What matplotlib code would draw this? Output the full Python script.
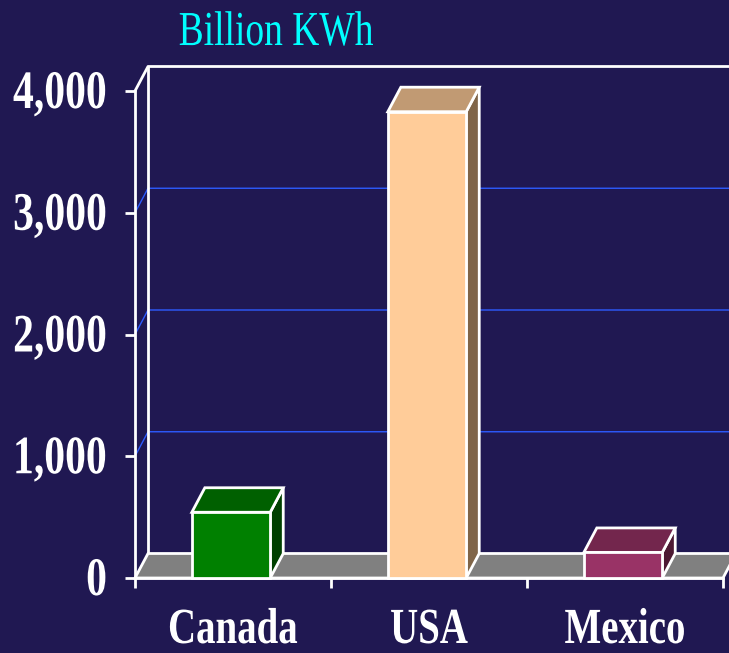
import matplotlib
matplotlib.use("Agg")
import matplotlib.pyplot as plt
from matplotlib.patches import Polygon
from matplotlib.patheffects import AbstractPathEffect
from matplotlib.transforms import Affine2D, offset_copy

# ---- data ----
categories = ["Canada", "USA", "Mexico"]
values = [540, 3830, 210]
yticks = [0, 1000, 2000, 3000, 4000]
title = "Billion KWh"

front_colors = ["#008000", "#FFCC99", "#993366"]
top_colors = ["#006000", "#C19A73", "#73264D"]
side_colors = ["#004000", "#806548", "#4D1933"]

bg = "#201852"
grid_col = "#2D5BFF"
white = "white"
serif = ["Liberation Serif", "DejaVu Serif"]


class VStretch(AbstractPathEffect):
    """Stretch glyphs vertically about the baseline (condensed look)."""
    def __init__(self, sy):
        super().__init__()
        self.sy = sy

    def draw_path(self, renderer, gc, tpath, affine, rgbFace=None):
        renderer.draw_path(gc, tpath, Affine2D().scale(1, self.sy) + affine, rgbFace)


stretch = [VStretch(1.3)]

W, H = 729, 653
fig = plt.figure(figsize=(W / 100, H / 100), dpi=100, facecolor=bg)
ax = fig.add_axes([135 / W, 75 / H, 588 / W, 487 / H])
ax.set_facecolor("none")
ncat = len(categories)
ymax = yticks[-1]
ax.set_xlim(0, ncat)
ax.set_ylim(0, ymax)

# depth offset in data units
dx = 13 / 196.0
dy = 24.5 * ymax / 487.0
lw = 2.0

# back wall gridlines (with left-wall diagonals)
for v in yticks[1:-1]:
    ax.plot([0, dx, ncat + dx + 0.2], [v, v + dy, v + dy], color=grid_col,
            lw=1.0, clip_on=False, zorder=1)

# back wall outline
ax.plot([dx, dx], [dy, ymax + dy], color=white, lw=lw, clip_on=False, zorder=1.2)
ax.plot([0, dx, ncat + dx + 0.2], [ymax, ymax + dy, ymax + dy], color=white,
        lw=lw, clip_on=False, zorder=1.2)

# floor
floor = Polygon([(0, 0), (ncat, 0), (ncat + dx, dy), (dx, dy)], closed=True,
                facecolor="#808080", edgecolor=white, lw=lw, clip_on=False,
                zorder=1.5)
ax.add_patch(floor)

# bars
bw = 0.4
for i, (v, fc, tc, sc) in enumerate(zip(values, front_colors, top_colors, side_colors)):
    x0 = i + 0.5 - bw / 2 - 0.01
    x1 = x0 + bw
    side = Polygon([(x1, 0), (x1 + dx, dy), (x1 + dx, v + dy), (x1, v)],
                   facecolor=sc, edgecolor=white, lw=lw, clip_on=False, zorder=3)
    top = Polygon([(x0, v), (x0 + dx, v + dy), (x1 + dx, v + dy), (x1, v)],
                  facecolor=tc, edgecolor=white, lw=lw, clip_on=False, zorder=3)
    front = Polygon([(x0, 0), (x1, 0), (x1, v), (x0, v)],
                    facecolor=fc, edgecolor=white, lw=lw, clip_on=False, zorder=3.1)
    for p in (side, top, front):
        ax.add_patch(p)

# spines
for s in ("top", "right"):
    ax.spines[s].set_visible(False)
for s in ("left", "bottom"):
    ax.spines[s].set_color(white)
    ax.spines[s].set_linewidth(lw)
    ax.spines[s].set_zorder(2)

# y ticks (labels drawn as text for baseline control)
ax.set_yticks(yticks)
ax.set_yticklabels([])
ax.tick_params(axis="y", colors=white, length=7.2, width=lw)
ytr = offset_copy(ax.get_yaxis_transform(), fig=fig, x=0, y=-17, units="dots")
for t in yticks:
    ax.text(-28 / 588, t, f"{t:,}", transform=ytr, ha="right", va="baseline",
            color=white, fontsize=30, fontweight="bold", family=serif,
            path_effects=stretch, clip_on=False)

# x ticks at category boundaries
ax.set_xticks(range(ncat + 1))
ax.set_xticklabels([])
ax.tick_params(axis="x", colors=white, length=7.2, width=lw, direction="out")
for i, c in enumerate(categories):
    ax.text(i + 0.5, -65 / 487, c, transform=ax.get_xaxis_transform(),
            ha="center", va="baseline", color=white, fontsize=28,
            fontweight="bold", family=serif, path_effects=stretch, clip_on=False)

# title
fig.text(276 / W, (H - 45) / H, title, color="#00FFFF", fontsize=27,
         family=serif, ha="center", va="baseline", path_effects=stretch)

fig.savefig("out.png", dpi=100, facecolor=bg)
